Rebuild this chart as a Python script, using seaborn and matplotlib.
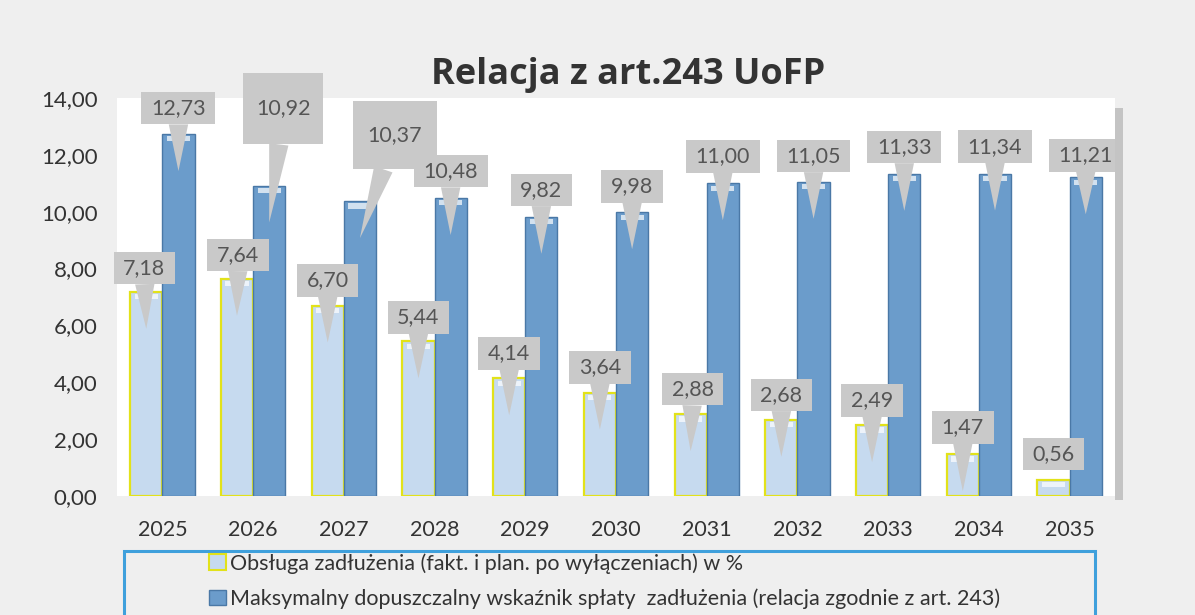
import numpy as np
import pandas as pd
import matplotlib
matplotlib.use("Agg")
import matplotlib.pyplot as plt
import seaborn as sns
from matplotlib.patches import Rectangle

lata = ["2025", "2026", "2027", "2028", "2029", "2030", "2031", "2032", "2033", "2034", "2035"]
obsluga = [7.18, 7.64, 6.70, 5.44, 4.14, 3.64, 2.88, 2.68, 2.49, 1.47, 0.56]
maksymalny = [12.73, 10.92, 10.37, 10.48, 9.82, 9.98, 11.00, 11.05, 11.33, 11.34, 11.21]
serie = ["Obsługa zadłużenia (fakt. i plan. po wyłączeniach) w %",
         "Maksymalny dopuszczalny wskaźnik spłaty  zadłużenia (relacja zgodnie z art. 243)"]
y_ticks = [0, 2, 4, 6, 8, 10, 12, 14]

df = pd.DataFrame({
    "rok": lata * 2,
    "wartosc": obsluga + maksymalny,
    "seria": [serie[0]] * len(lata) + [serie[1]] * len(lata),
})

sns.set_style("white")
plt.rcParams["font.family"] = ["Lato", "DejaVu Sans"]

jasny = "#c6daef"
ciemny = "#6b9ccb"
zolty = "#e2e21a"
szary_box = "#c9c9c9"

fig = plt.figure(figsize=(11.95, 6.15), dpi=100)
fig.patch.set_facecolor("#efefef")
ax = fig.add_axes([117 / 1195, 1 - 496 / 615, (1115 - 117) / 1195, (496 - 98) / 615])
ax.set_facecolor("white")

# cien panelu
fig.patches.append(Rectangle((1115 / 1195, 1 - 500 / 615), 8 / 1195, (500 - 108) / 615,
                             transform=fig.transFigure, facecolor="#c4c4c4",
                             edgecolor="none", zorder=0))

sns.barplot(data=df, x="rok", y="wartosc", hue="seria", palette=[jasny, ciemny],
            width=0.71, ax=ax, legend=False, saturation=1)

for bar in ax.containers[0]:
    bar.set_edgecolor(zolty)
    bar.set_linewidth(1.6)
for bar in ax.containers[1]:
    bar.set_edgecolor("#4a78a6")
    bar.set_linewidth(1.0)

# polysk na gorze slupkow
for cont in ax.containers:
    for bar in cont:
        x0 = bar.get_x()
        w = bar.get_width()
        h = bar.get_height()
        ax.add_patch(Rectangle((x0 + w * 0.14, h - 0.26), w * 0.72, 0.18,
                               facecolor="white", alpha=0.7, edgecolor="none", zorder=3))

ax.set_ylim(0, 14)
ax.set_xlim(-0.5, 10.5)
ax.set_yticks(y_ticks)
ax.set_yticklabels([f"{v:.2f}".replace(".", ",") for v in y_ticks])
ax.tick_params(axis="y", length=0, pad=14, labelsize=16, labelcolor="#333333")
ax.tick_params(axis="x", length=0, pad=17, labelsize=15.5, labelcolor="#333333")
ax.set_xlabel("")
ax.set_ylabel("")
sns.despine(ax=ax, left=True, bottom=True, top=True, right=True)

# przesuniecia etykiet wzgledem szczytu slupka (piksele)
px_x = (1115 - 117) / 11.0
px_y = (496 - 98) / 14.0
off_jasne = [(-2, 24), (1, 24), (0, 25), (0, 24), (0, 25), (0, 25),
             (2, 25), (0, 25), (0, 25), (0, 27), (0, 26)]
off_ciemne = [(0, 26), (14, 77), (35, 66), (0, 27), (0, 27), (0, 26),
              (0, 27), (0, 26), (0, 27), (0, 27), (0, 22)]
styl_jasne = [(0.45, 0.65)] * 11
styl_ciemne = [(0.45, 0.65), (0.6, 2.0), (0.7, 1.6)] + [(0.45, 0.65)] * 8

for cont, offs, styl in zip(ax.containers, [off_jasne, off_ciemne], [styl_jasne, styl_ciemne]):
    for i, bar in enumerate(cont):
        xc = bar.get_x() + bar.get_width() / 2
        h = bar.get_height()
        tip = max(h - 1.3, 0.12)
        pad, asp = styl[i]
        strzalka = None
        if h > 1.0:
            strzalka = dict(arrowstyle="wedge,tail_width=0.9,shrink_factor=0.5",
                            fc=szary_box, ec="none", shrinkA=0, shrinkB=0)
        ax.annotate(f"{h:.2f}".replace(".", ","), xy=(xc, tip),
                    xytext=(xc + offs[i][0] / px_x, h + offs[i][1] / px_y),
                    textcoords="data", fontsize=15.5, color="#555555",
                    ha="center", va="center", annotation_clip=False, zorder=5,
                    bbox=dict(boxstyle=f"square,pad={pad}", fc=szary_box, ec="none",
                              mutation_aspect=asp),
                    arrowprops=strzalka)

fig.text(628 / 1195, 1 - 75 / 615, "Relacja z art.243 UoFP", ha="center", va="center",
         fontsize=26, fontweight="bold", color="#333333", family=["Open Sans", "DejaVu Sans"])

# legenda
fig.patches.append(Rectangle((124 / 1195, -0.02), (1095 - 124) / 1195, (615 - 551) / 615 + 0.02,
                             transform=fig.transFigure, facecolor="none",
                             edgecolor="#3fa0dc", linewidth=2.2, zorder=1))
uchwyty = [Rectangle((0, 0), 1, 1, facecolor=jasny, edgecolor=zolty, linewidth=1.5),
           Rectangle((0, 0), 1, 1, facecolor=ciemny, edgecolor="#4a78a6", linewidth=1.0)]
fig.legend(uchwyty, serie, loc="center left", bbox_to_anchor=(190 / 1195, 1 - 581 / 615),
           frameon=False, fontsize=15.5, handlelength=0.75, handleheight=0.75,
           handletextpad=0.2, labelspacing=0.68, labelcolor="#333333")

fig.savefig("out.png", dpi=100, facecolor=fig.get_facecolor())
